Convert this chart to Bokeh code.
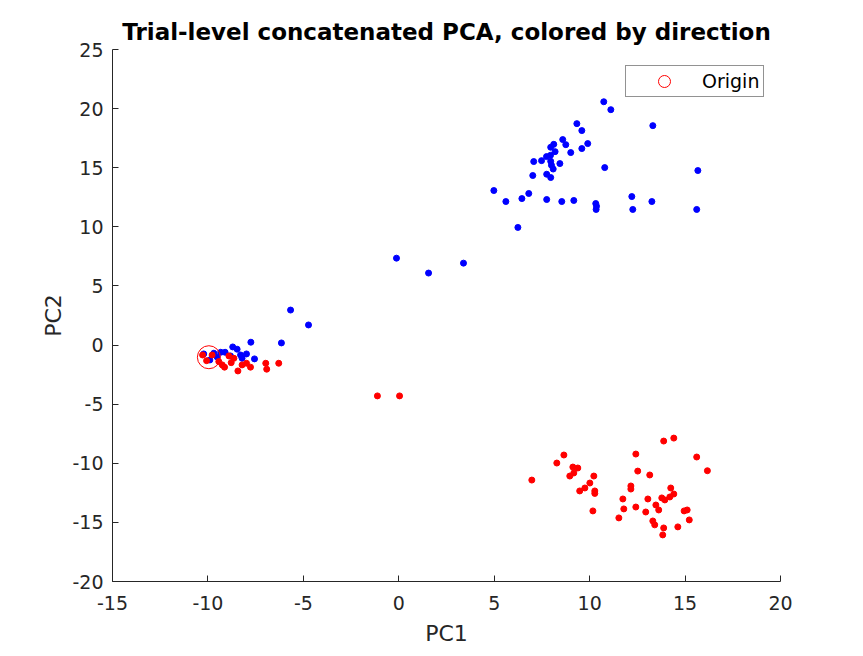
"""
Trial-level concatenated PCA scatter, colored by direction
"""

from bokeh.plotting import figure
from bokeh.models import Legend, LegendItem, FixedTicker
from bokeh.embed import file_html
from bokeh.resources import INLINE

# direction 1 (blue) trial points
blue_x = [10.74, 11.11, 9.33, 9.59, 13.31, 8.59, 8.12, 7.96, 8.75, 9.90,
          9.59, 9.01, 8.19, 7.95, 7.74, 7.07, 7.48, 7.96, 8.00, 8.09,
          8.44, 10.79, 15.67, 7.02, 7.75, 7.96, 4.98, 5.61, 6.45, 6.81,
          7.75, 8.54, 9.17, 10.32, 10.36, 10.34, 12.21, 13.26, 12.26, 15.61,
          6.24, -0.12, 1.56, 3.39, -5.67, -4.73, -6.15,
          -7.75, -8.70, -8.47, -9.33, -9.10, -7.98, -8.29, -7.56, -10.22,
          -9.69, -9.90, -9.52, -8.82, -8.21]
blue_y = [20.58, 19.91, 18.73, 18.14, 18.56, 17.38, 16.98, 16.73, 16.95, 17.04,
          16.62, 16.28, 16.36, 16.05, 15.94, 15.52, 15.60, 15.54, 15.21, 14.89,
          15.35, 15.01, 14.76, 14.34, 14.45, 14.17, 13.07, 12.14, 12.39, 12.82,
          12.31, 12.14, 12.23, 11.97, 11.74, 11.47, 12.56, 12.14, 11.47, 11.47,
          9.95, 7.35, 6.09, 6.93, 2.96, 1.70, 0.18,
          0.24, -0.16, -0.35, -0.61, -0.61, -0.75, -0.84, -1.17, -0.75,
          -0.69, -1.26, -1.00, -0.92, -1.12]

# direction 2 (red) trial points
red_x = [-10.28, -9.78, -10.07, -9.43, -9.25, -9.13, -8.90, -8.64, -8.78, -8.21,
         -7.98, -7.77, -8.43, -6.97, -6.92, -6.29, -1.12, 0.04,
         13.88, 14.41, 12.42, 15.61, 8.65, 8.28, 9.12, 9.38, 9.17, 8.96,
         6.97, 10.22, 12.52, 13.15, 10.01, 9.75, 9.48, 10.27, 10.27, 12.16,
         12.16, 14.25, 11.74, 13.05, 13.78, 13.94, 14.20, 14.41, 13.47, 13.62,
         12.42, 11.79, 12.94, 10.17, 11.53, 13.31, 13.41, 13.88, 13.83, 14.62,
         14.95, 15.11, 15.22, 16.17]
red_y = [-0.84, -0.84, -1.32, -1.40, -1.68, -1.87, -0.92, -1.12, -1.49, -1.68,
         -1.54, -1.87, -2.19, -1.54, -2.04, -1.54, -4.30, -4.30,
         -8.12, -7.87, -9.22, -9.47, -9.30, -9.98, -10.32, -10.40, -10.82, -11.08,
         -11.42, -11.08, -10.66, -10.99, -11.67, -12.09, -12.34, -12.34, -12.55, -11.92,
         -12.18, -12.09, -13.02, -13.02, -12.93, -13.10, -12.85, -12.60, -13.53, -13.95,
         -13.70, -13.86, -14.12, -14.03, -14.62, -14.88, -15.21, -15.47, -16.06, -15.38,
         -14.03, -13.95, -14.79, -10.63]

origin_x = [-9.95]
origin_y = [-1.03]

x_ticks = [-15, -10, -5, 0, 5, 10, 15, 20]
y_ticks = [-20, -15, -10, -5, 0, 5, 10, 15, 20, 25]

font = "DejaVu Sans"
ink = "#262626"

p = figure(width=855, height=648, x_range=(-15, 20), y_range=(-20, 25),
           output_backend="svg", toolbar_location=None,
           title="Trial-level concatenated PCA, colored by direction",
           min_border_left=112, min_border_right=75,
           min_border_top=49, min_border_bottom=66)

p.title.align = "center"
p.title.text_font = font
p.title.text_font_size = "23px"
p.title.text_font_style = "bold"
p.title.text_color = "black"

p.outline_line_color = None
p.xgrid.grid_line_color = None
p.ygrid.grid_line_color = None

for ax in (p.xaxis[0], p.yaxis[0]):
    ax.axis_line_color = ink
    ax.major_tick_line_color = ink
    ax.major_tick_in = 6
    ax.major_tick_out = 0
    ax.minor_tick_line_color = None
    ax.major_label_text_font = font
    ax.major_label_text_font_size = "19px"
    ax.major_label_text_color = ink
    ax.axis_label_text_font = font
    ax.axis_label_text_font_size = "22px"
    ax.axis_label_text_font_style = "normal"
    ax.axis_label_text_color = ink

p.xaxis.ticker = FixedTicker(ticks=x_ticks)
p.yaxis.ticker = FixedTicker(ticks=y_ticks)
# plain hyphen minus signs, as in the original
p.xaxis.major_label_overrides = {t: str(t) for t in x_ticks}
p.yaxis.major_label_overrides = {t: str(t) for t in y_ticks}
p.xaxis.axis_label = "PC1"
p.yaxis.axis_label = "PC2"
p.xaxis.major_label_standoff = 14
p.yaxis.major_label_standoff = 9
p.xaxis.axis_label_standoff = 8
p.yaxis.axis_label_standoff = 3

p.scatter(blue_x, blue_y, size=6, color="blue")
p.scatter(red_x, red_y, size=6, color="red")
orig = p.scatter(origin_x, origin_y, size=23, fill_color=None,
                 line_color="red", line_width=1)

legend = Legend(items=[LegendItem(label="Origin", renderers=[orig])],
                location="top_right", margin=16, padding=0,
                glyph_width=76, glyph_height=30, label_standoff=0,
                label_width=61, label_height=19, label_text_font=font,
                label_text_font_size="19px", label_text_color="black",
                border_line_color=ink, border_line_width=1,
                background_fill_color="white")
p.add_layout(legend)

open("out.html", "w").write(file_html(p, INLINE))
